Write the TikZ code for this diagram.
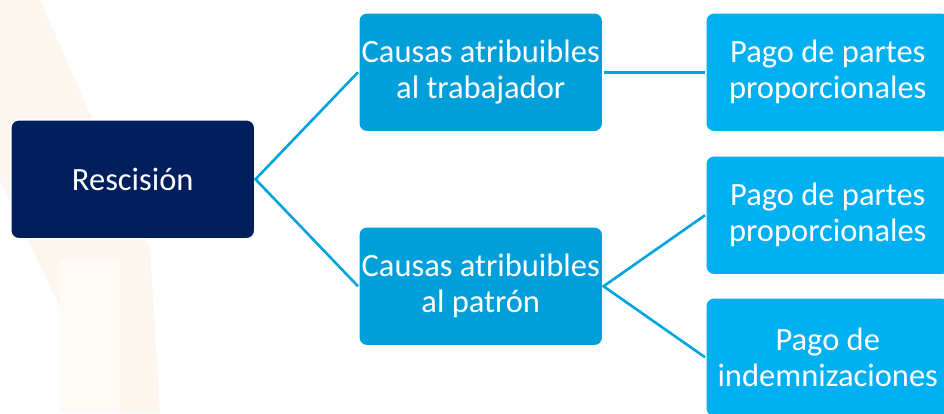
\documentclass[tikz,border=0pt]{standalone}
\usepackage{fontspec}
\setmainfont{Carlito}
\definecolor{navy}{HTML}{001F5C}
\definecolor{midblue}{HTML}{009FDA}
\definecolor{lightblue}{HTML}{00B0F0}
\definecolor{linkblue}{HTML}{00A3E0}
\definecolor{wmark}{HTML}{FDF6EF}
\begin{document}
\begin{tikzpicture}[x=1pt,y=-1pt,
  box/.style={rounded corners=8pt, draw=white, line width=1.5pt, text=white,
    minimum width=244pt, minimum height=119pt, align=center,
    font=\fontsize{32.5}{36}\selectfont, inner sep=0pt, anchor=north west},
  rootbox/.style={box, fill=navy},
  midbox/.style={box, fill=midblue},
  leafbox/.style={box, fill=lightblue},
  link/.style={draw=linkblue, line width=2.6pt}]
\useasboundingbox (0,0) rectangle (944,413);
\clip (0,0) rectangle (944,413);
\fill[white] (0,0) rectangle (944,413);
% faint watermark
\fill[wmark] (0,0) -- (40,0) -- (150,250) -- (160,413) -- (110,413) -- (0,180) -- cycle;
\fill[wmark!60] (60,260) rectangle (120,413);
\node[rootbox] (r) at (10,119) {Rescisión};
\node[midbox] (t) at (358,12) {Causas atribuibles\\al trabajador};
\node[midbox] (p) at (358,226) {Causas atribuibles\\al patrón};
\node[leafbox] (l1) at (705,12) {Pago de partes\\proporcionales};
\node[leafbox] (l2) at (705,155) {Pago de partes\\proporcionales};
\node[leafbox] (l3) at (705,297) {Pago de\\indemnizaciones};
\draw[link] (t.west) -- (r.east) -- (p.west);
\draw[link] (t.east) -- (l1.west);
\draw[link] (l2.west) -- (p.east) -- (l3.west);
\end{tikzpicture}
\end{document}
